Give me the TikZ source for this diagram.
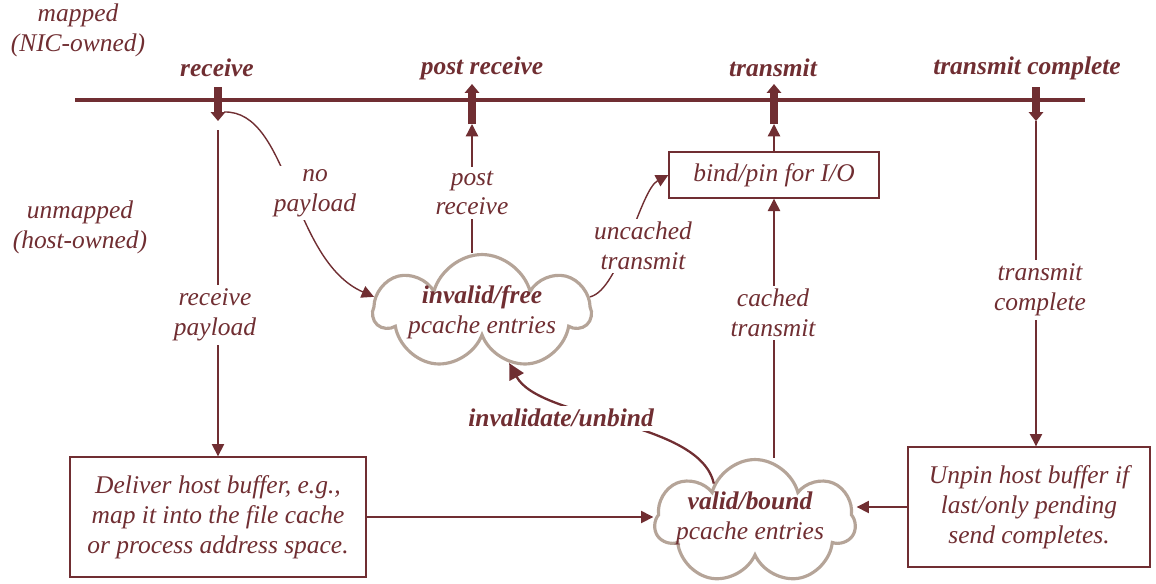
\documentclass[tikz,border=0pt]{standalone}
\usepackage{fontspec}
\setmainfont{Liberation Serif}
\usetikzlibrary{arrows, positioning, shapes}
\usetikzlibrary{arrows.meta}
\definecolor{maroon}{RGB}{112,46,50}
\definecolor{puff}{RGB}{181,164,152}

\begin{document}
\begin{tikzpicture}[x=0.02cm, y=-0.02cm, font=\fontsize{14.5}{17}\selectfont\itshape, text=maroon,
  lbl/.style={fill=white, inner sep=2pt, align=center},
  head/.style={font=\fontsize{14.5}{17}\selectfont\bfseries\itshape},
  box/.style={draw=maroon, line width=0.8pt, align=center, inner sep=0pt},
  pcache/.style={cloud, cloud puffs=7, aspect=1.8, draw=puff, line width=1.8pt, fill=white, inner sep=0pt},
  flow/.style={maroon, line width=0.8pt, -{Triangle[length=7pt,width=7pt]}},
  tick/.style={maroon, line width=4pt, -{Triangle[length=5pt,width=8pt]}}]

\useasboundingbox (0,0) rectangle (1156,583);

\coordinate (tl-w) at (75,100);
\coordinate (tl-e) at (1085,100);
\draw[maroon, line width=2.4pt] (tl-w) -- (tl-e);

\node (mapped) at (78,30) [align=center] {mapped\\(NIC-owned)};
\node (unmapped) at (80,227) [align=center] {unmapped\\(host-owned)};

\node[head] (h-rcv) at (217,68) {receive};
\node[head] (h-post) at (482,68) {post receive};
\node[head] (h-xmit) at (773,68) {transmit};
\node[head] (h-xcomp) at (1027,68) {transmit complete};

\coordinate (rcv-top) at (218,87);
\coordinate (rcv-tip) at (218,121);
\coordinate (post-foot) at (472,124);
\coordinate (post-tip) at (472,84);
\coordinate (xmit-foot) at (774,124);
\coordinate (xmit-tip) at (774,84);
\coordinate (xcomp-top) at (1036,87);
\coordinate (xcomp-tip) at (1036,121);

\draw[tick] (rcv-top) -- (rcv-tip);
\draw[tick] (post-foot) -- (post-tip);
\draw[tick] (xmit-foot) -- (xmit-tip);
\draw[tick] (xcomp-top) -- (xcomp-tip);

\node[pcache, minimum width=4.3cm, minimum height=2.3cm] (inv) at (482,312) {};
\node[align=center] (inv-txt) at (inv.center) {\textbf{invalid/free}\\pcache entries};
\node[pcache, minimum width=4.0cm, minimum height=2.5cm] (valid) at (755,522) {};
\node[align=center] (valid-txt) at (750,518) {\textbf{valid/bound}\\pcache entries};

\node[box, minimum width=5.92cm, minimum height=2.4cm] (deliver) at (218,517) {Deliver host buffer, e.g.,\\map it into the file cache\\or process address space.};
\node[box, minimum width=4.84cm, minimum height=2.4cm] (unpin) at (1029,507) {Unpin host buffer if\\last/only pending\\send completes.};
\node[box, minimum width=4.2cm, minimum height=0.92cm] (bind) at (774,175) {bind/pin for I/O};

\coordinate (rcv-out) at (218,130);
\draw[flow] (rcv-out) -- (deliver.north);
\draw[flow] (224,112) .. controls (290,110) and (290,260) .. (inv.172);
\draw[flow] (inv.north -| post-foot) -- (post-foot);
\draw[flow] (inv.8) .. controls (620,290) and (640,190) .. (bind.west);
\draw[flow] (bind.north) -- (xmit-foot);
\draw[flow] (bind.south |- valid.north) -- (bind.south);
\draw[flow] (xcomp-tip) -- (unpin.north -| xcomp-tip);
\draw[flow] (deliver.east) -- (deliver.east -| valid.west);
\draw[flow] (unpin.west) -- (unpin.west -| valid.east);
\draw[maroon, line width=1.3pt, -{Triangle[length=9pt,width=9pt]}] (valid.137) .. controls (700,420) and (540,420) .. (inv.-62);

\node[lbl] (l-rcvpay) at (215,315) {receive\\payload};
\node[lbl] (l-nopay) at (315,193) {no\\payload};
\node[lbl] (l-post) at (472,193) {post\\receive};
\node[lbl] (l-unc) at (643,246) {uncached\\transmit};
\node[lbl] (l-cached) at (773,313) {cached\\transmit};
\node[lbl] (l-xcomp) at (1040,290) {transmit\\complete};
\node[lbl, head] (l-inval) at (561,418) {invalidate/unbind};

\end{tikzpicture}
\end{document}
